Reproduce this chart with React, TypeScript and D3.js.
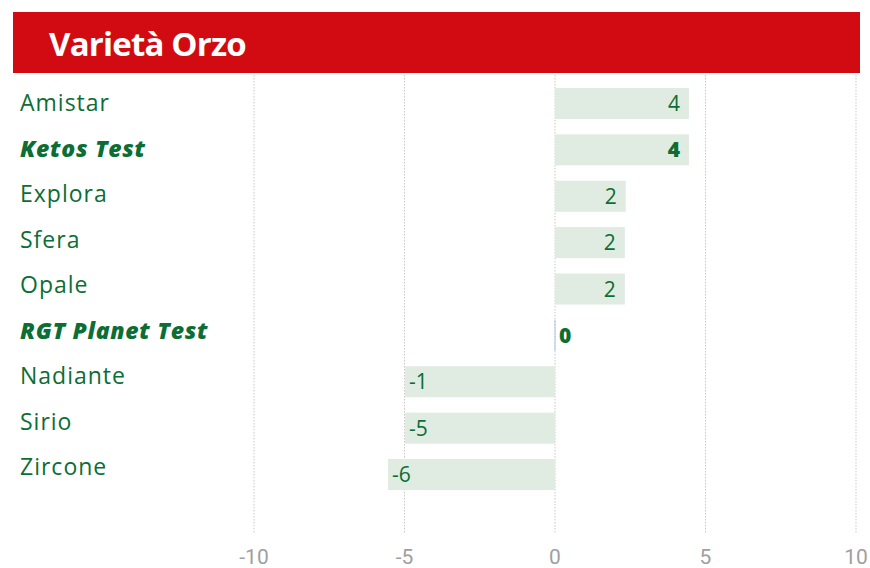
import React from 'react';
import * as d3 from 'd3';

// varieties, top to bottom
const varieties = ['Amistar', 'Ketos Test', 'Explora', 'Sfera', 'Opale', 'RGT Planet Test', 'Nadiante', 'Sirio', 'Zircone'];
// bar lengths as drawn
const barValues = [4.45, 4.45, 2.35, 2.32, 2.32, 0, -4.98, -4.98, -5.55];
// value labels as printed on the bars
const valueLabels = ['4', '4', '2', '2', '2', '0', '-1', '-5', '-6'];
// rows printed in bold italic
const testRows = ['Ketos Test', 'RGT Planet Test'];
const xTicks = [-10, -5, 0, 5, 10];
const title = 'Varietà Orzo';

const W = 870;
const H = 568;

const GREEN = '#0c6e34';
const BAR = '#e0ebe1';

export default function App() {
	const x = d3.scaleLinear().domain([-10, 10]).range([254, 856]);
	const yLabel = d3.scalePoint<string>().domain(varieties).range([103, 467]);
	const yBar = d3.scaleBand<string>().domain(varieties).range([88, 490]).paddingInner(0.3315).paddingOuter(0);

	return (
		<svg width={W} height={H} style={{ position: 'absolute', left: 0, top: 0 }}>
			{/* header */}
			<rect x={13} y={12} width={847} height={61} fill="#d20b12" />
			<text x={49} y={56} fill="#fff" fontFamily="'Open Sans', sans-serif" fontWeight={700} fontSize={33} letterSpacing={-0.8}>
				{title}
			</text>

			{/* grid */}
			{xTicks.map(t => (
				<line key={'g' + t} x1={x(t)} x2={x(t)} y1={75} y2={533} stroke="#c8c8c8" strokeWidth={1} strokeDasharray="1.5,1.5" />
			))}
			{xTicks.map(t => (
				<text
					key={'t' + t}
					x={x(t)}
					y={564}
					textAnchor="middle"
					fill="#a0a0a0"
					fontFamily="'Roboto', sans-serif"
					fontSize={21}
				>
					{t}
				</text>
			))}

			{/* bars */}
			{varieties.map((v, i) => {
				const val = barValues[i];
				const x0 = x(Math.min(0, val));
				const w = Math.abs(x(val) - x(0));
				const y0 = yBar(v) as number;
				const bh = yBar.bandwidth();
				if (w < 1) {
					return <rect key={'b' + v} x={x(0) - 0.5} y={y0} width={1} height={bh} fill="#a9c6e8" />;
				}
				return <rect key={'b' + v} x={x0} y={y0} width={w} height={bh} fill={BAR} />;
			})}

			{/* value labels */}
			{varieties.map((v, i) => {
				const val = barValues[i];
				const bold = testRows.includes(v);
				const cy = (yBar(v) as number) + yBar.bandwidth() / 2;
				const pos = val > 0;
				return (
					<text
						key={'v' + v}
						x={pos ? x(val) - 9 : x(val) + 4}
						y={cy}
						dy="0.36em"
						textAnchor={pos ? 'end' : 'start'}
						fill={GREEN}
						fontFamily="'Open Sans', sans-serif"
						fontWeight={bold ? 800 : 400}
						fontSize={21}
					>
						{valueLabels[i]}
					</text>
				);
			})}

			{/* category labels */}
			{varieties.map(v => {
				const bold = testRows.includes(v);
				return (
					<text
						key={'l' + v}
						x={20}
						y={yLabel(v)}
						dy="0.36em"
						fill={GREEN}
						fontFamily="'Open Sans', sans-serif"
						fontWeight={bold ? 800 : 400}
						fontStyle={bold ? 'italic' : 'normal'}
						fontSize={23}
						letterSpacing={bold ? 0.7 : 1}
					>
						{v}
					</text>
				);
			})}
		</svg>
	);
}
